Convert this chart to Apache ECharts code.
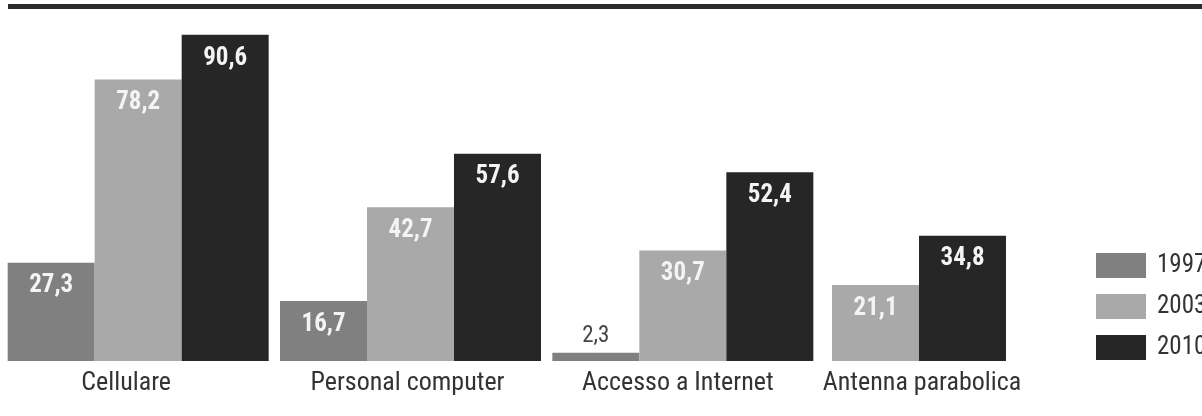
<!DOCTYPE html>
<html>
<head>
<meta charset="utf-8">
<script src="https://cdn.jsdelivr.net/npm/echarts@6/dist/echarts.min.js"></script>
<style>
html,body{margin:0;padding:0;background:#fff;}
#chart{width:1202px;height:416px;}
</style>
</head>
<body>
<div id="chart"></div>
<script>
const categories = ['Cellulare', 'Personal computer', 'Accesso a Internet', 'Antenna parabolica'];
const years = ['1997', '2003', '2010'];
const v1997 = [27.3, 16.7, 2.3, null];
const v2003 = [78.2, 42.7, 30.7, 21.1];
const v2010 = [90.6, 57.6, 52.4, 34.8];

const colors = {'1997': '#808080', '2003': '#a9a9a9', '2010': '#262626'};
const valuesByYear = {'1997': v1997, '2003': v2003, '2010': v2010};
const labelShift = [-12, -3, -5, 3];
const FONT = '"Roboto Condensed", "DejaVu Sans Condensed", "Roboto", sans-serif';

function fmt(v) { return String(v).replace('.', ','); }

const inLabel = {
  show: true, position: 'insideTop', distance: 11,
  color: '#f4f4f4', fontFamily: FONT, fontWeight: 'bold', fontSize: 25,
  formatter: p => fmt(p.value)
};
const outLabel = {
  show: true, position: 'top', distance: 5,
  color: '#444', fontFamily: FONT, fontWeight: 'normal', fontSize: 23
};

function catData(list, offset) {
  return list.map((c, i) => {
    const s = labelShift[i + offset];
    const pad = s < 0 ? [0, -2 * s, 0, 0] : [0, 0, 0, 2 * s];
    return {value: c, textStyle: {padding: pad}};
  });
}

const cat1 = catData(categories.slice(0, 3), 0);
const cat2 = catData(categories.slice(3), 3);

const series = [];
years.forEach(y => {
  const vals = valuesByYear[y];
  const d1 = vals.slice(0, 3).map(v => (v !== null && v < 5) ? {value: v, label: outLabel} : v);
  series.push({
    name: y, type: 'bar', xAxisIndex: 0, yAxisIndex: 0,
    data: d1, barWidth: 87, barGap: '0%',
    itemStyle: {color: colors[y]}, label: inLabel, silent: true
  });
  const d2 = vals.slice(3);
  if (d2.some(v => v !== null)) {
    series.push({
      name: y, type: 'bar', xAxisIndex: 1, yAxisIndex: 1,
      data: d2, barWidth: 87, barGap: '0%',
      itemStyle: {color: colors[y]}, label: inLabel, silent: true
    });
  }
});

const axisLabel = {color: '#333', fontFamily: FONT, fontSize: 26, margin: 9, interval: 0};

const option = {
  animation: false,
  backgroundColor: '#ffffff',
  graphic: [{
    type: 'rect', left: 8, top: 4, shape: {width: 1194, height: 5},
    style: {fill: '#2b2b2b'}
  }],
  legend: {
    data: years, orient: 'vertical', left: 1091, top: 248,
    itemWidth: 50, itemHeight: 25, itemGap: 16, icon: 'rect',
    textStyle: {color: '#333', fontFamily: FONT, fontSize: 25, padding: [0, 0, 0, 6]}
  },
  grid: [
    {left: 2, width: 817, top: 1, height: 360},
    {left: 832, width: 174, top: 1, height: 360}
  ],
  xAxis: [
    {type: 'category', gridIndex: 0, data: cat1, axisLine: {show: false}, axisTick: {show: false}, axisLabel: axisLabel},
    {type: 'category', gridIndex: 1, data: cat2, axisLine: {show: false}, axisTick: {show: false}, axisLabel: axisLabel}
  ],
  yAxis: [
    {type: 'value', gridIndex: 0, min: 0, max: 100, show: false, splitLine: {show: false}},
    {type: 'value', gridIndex: 1, min: 0, max: 100, show: false, splitLine: {show: false}}
  ],
  series: series
};

const chart = echarts.init(document.getElementById('chart'), null, {renderer: 'canvas'});
chart.setOption(option);
</script>
</body>
</html>
